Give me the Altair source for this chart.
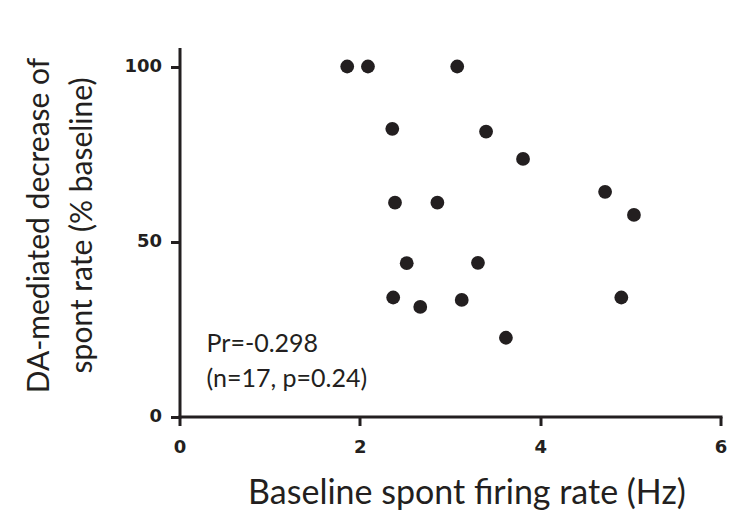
import altair as alt
import pandas as pd

# Data
baseline_rate_hz = [1.86, 2.09, 3.08, 2.36, 3.40, 3.81, 2.39, 2.86, 4.72, 5.04,
                    2.52, 3.31, 2.37, 2.67, 3.13, 3.62, 4.90]
da_decrease_pct = [100, 100, 100, 82.2, 81.4, 73.6, 61.1, 61.1, 64.2, 57.6,
                   43.8, 43.9, 34.0, 31.3, 33.3, 22.5, 34.0]
x_ticks = [0, 2, 4, 6]
y_ticks = [0, 50, 100]
x_title = "Baseline spont firing rate (Hz)"
y_title = ["DA-mediated decrease of", "spont rate (% baseline)"]
annotation_lines = ["Pr=-0.298", "(n=17, p=0.24)"]

df = pd.DataFrame({"rate": baseline_rate_hz, "dec": da_decrease_pct})
note_df = pd.DataFrame({"id": [0]})

ink = "#231f20"
title_font = "Lato"
tick_font = "DejaVu Sans"

x_enc = alt.X(
    "rate:Q",
    scale=alt.Scale(domain=[0, 6], nice=False, zero=False),
    axis=alt.Axis(
        values=x_ticks, format="d", title=x_title, labelPadding=13,
        labelFlush=False, labelOverlap=False,
        titleX=287, titleY=87, titleBaseline="alphabetic", titleAlign="center",
        titleAnchor="middle", titleFontSize=34,
    ),
)
y_enc = alt.Y(
    "dec:Q",
    scale=alt.Scale(domain=[0, 105], nice=False, zero=True),
    axis=alt.Axis(
        values=y_ticks, format="d", title=y_title, labelPadding=9,
        labelFlush=False, labelOverlap=False,
        titleX=-131, titleY=176, titleBaseline="alphabetic", titleAlign="center",
        titleAngle=-90, titleLineHeight=43, titleAnchor="middle", titleFontSize=30,
    ),
)

points = alt.Chart(df).mark_circle(size=190, opacity=1, color=ink).encode(
    x=x_enc, y=y_enc
)

note = alt.Chart(note_df).mark_text(
    align="left", baseline="alphabetic", font=title_font, fontSize=25,
    fontWeight=400, lineHeight=35, color=ink,
).encode(
    x=alt.datum(0.30),
    y=alt.datum(18.5),
    text=alt.value(annotation_lines),
)

chart = (
    alt.layer(points, note)
    .properties(
        width=541,
        height=367.5,
        autosize=alt.AutoSizeParams(type="none"),
        padding={"left": 171.5, "top": 41, "right": 6.5, "bottom": 93},
    )
    .configure_view(stroke=None)
    .configure_axis(
        grid=False,
        domainColor=ink, domainWidth=3, domainCap="square",
        tickColor=ink, tickWidth=3, tickSize=9,
        labelFont=tick_font, labelFontWeight="bold", labelFontSize=18,
        labelColor=ink,
        titleFont=title_font, titleFontWeight="normal",
        titleColor=ink,
    )
)

chart.save("out.html", embed_options={"renderer": "svg", "actions": False})
